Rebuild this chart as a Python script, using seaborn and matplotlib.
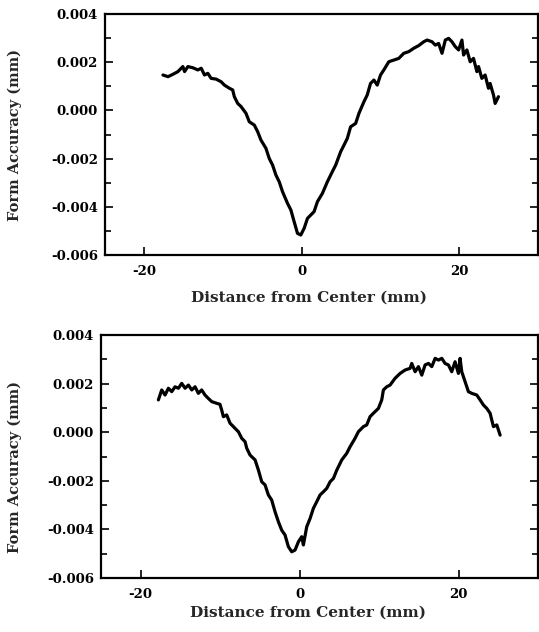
import numpy as np
import pandas as pd
import seaborn as sns
import matplotlib
matplotlib.use("Agg")
import matplotlib.pyplot as plt
from matplotlib.ticker import MultipleLocator, FormatStrFormatter

# Profile 1 (upper panel) - distance in mm, form accuracy in micrometres (x1e-3 mm)
x_top = [-17.64, -17.00, -16.37, -15.74, -15.11, -14.89, -14.47, -13.84, -13.21, -12.78,
         -12.36, -11.94, -11.52, -10.89, -10.25, -9.83, -9.20, -8.78, -8.57, -8.14,
         -7.72, -7.09, -6.67, -6.03, -5.61, -5.19, -4.56, -4.14, -3.71, -3.29,
         -2.87, -2.45, -1.81, -1.39, -0.97, -0.55, -0.13, 0.30, 0.72, 1.14,
         1.56, 1.98, 2.62, 3.25, 3.88, 4.30, 4.94, 5.36, 5.78, 6.20,
         6.84, 7.26, 7.89, 8.31, 8.73, 9.16, 9.58, 10.00, 10.42, 11.05,
         11.69, 12.32, 12.95, 13.59, 14.22, 14.85, 15.49, 15.91, 16.54, 16.96,
         17.38, 17.81, 18.23, 18.65, 19.07, 19.49, 19.92, 20.34, 20.55, 20.97,
         21.39, 21.81, 22.24, 22.45, 22.87, 23.29, 23.71, 23.92, 24.35, 24.56, 24.98]
y_top_um = [1.47, 1.40, 1.50, 1.61, 1.82, 1.61, 1.82, 1.77, 1.68, 1.75,
            1.47, 1.54, 1.33, 1.30, 1.19, 1.05, 0.92, 0.85, 0.57, 0.29,
            0.16, -0.12, -0.47, -0.61, -0.88, -1.23, -1.57, -1.99, -2.27, -2.68,
            -2.96, -3.37, -3.86, -4.13, -4.62, -5.10, -5.17, -4.89, -4.48, -4.34,
            -4.20, -3.79, -3.44, -2.96, -2.54, -2.27, -1.71, -1.44, -1.16, -0.68,
            -0.54, -0.12, 0.36, 0.64, 1.12, 1.26, 1.05, 1.47, 1.68, 2.02,
            2.09, 2.16, 2.37, 2.44, 2.58, 2.69, 2.85, 2.92, 2.85, 2.71,
            2.78, 2.37, 2.92, 2.99, 2.85, 2.65, 2.51, 2.92, 2.30, 2.51,
            2.02, 2.16, 1.61, 1.82, 1.33, 1.47, 0.92, 1.12, 0.64, 0.29, 0.57]

# Profile 2 (lower panel)
x_bot = [-17.78, -17.36, -16.94, -16.52, -16.10, -15.68, -15.26, -14.84, -14.42, -14.00,
         -13.58, -13.16, -12.75, -12.33, -11.91, -11.49, -11.07, -10.44, -10.03, -9.81,
         -9.60, -9.18, -8.76, -8.34, -7.71, -7.29, -6.87, -6.66, -6.24, -5.61,
         -5.19, -4.77, -4.35, -3.94, -3.52, -3.10, -2.68, -2.26, -1.84, -1.42,
         -1.00, -0.58, -0.16, 0.26, 0.47, 0.89, 1.31, 1.73, 2.15, 2.57,
         2.99, 3.41, 3.83, 4.25, 4.67, 5.30, 5.92, 6.34, 6.97, 7.39,
         8.02, 8.44, 8.86, 9.28, 9.91, 10.33, 10.54, 10.96, 11.38, 12.01,
         12.64, 13.27, 13.90, 14.11, 14.53, 14.95, 15.37, 15.79, 16.21, 16.63,
         17.05, 17.47, 17.89, 18.30, 18.72, 19.14, 19.56, 19.98, 20.19, 20.40,
         20.82, 21.24, 21.66, 22.29, 22.71, 23.13, 23.55, 23.97, 24.18, 24.39,
         24.81, 25.23]
y_bot_um = [1.33, 1.74, 1.53, 1.81, 1.67, 1.87, 1.81, 2.01, 1.81, 1.94,
            1.74, 1.87, 1.60, 1.74, 1.53, 1.39, 1.26, 1.19, 1.15, 0.91,
            0.64, 0.71, 0.37, 0.23, 0.02, -0.25, -0.39, -0.66, -0.94, -1.14,
            -1.56, -2.04, -2.17, -2.58, -2.79, -3.27, -3.68, -4.03, -4.23, -4.71,
            -4.92, -4.85, -4.51, -4.30, -4.64, -3.89, -3.55, -3.13, -2.86, -2.58,
            -2.45, -2.31, -2.04, -1.90, -1.56, -1.14, -0.87, -0.60, -0.25, 0.02,
            0.23, 0.30, 0.64, 0.78, 0.98, 1.33, 1.74, 1.87, 1.94, 2.22,
            2.42, 2.56, 2.63, 2.83, 2.49, 2.70, 2.35, 2.77, 2.83, 2.70,
            3.04, 2.97, 3.04, 2.83, 2.77, 2.49, 2.90, 2.42, 3.04, 2.49,
            2.08, 1.67, 1.60, 1.53, 1.33, 1.12, 0.98, 0.78, 0.50, 0.23,
            0.30, -0.12]

y_ticks = [-0.006, -0.004, -0.002, 0.000, 0.002, 0.004]
x_ticks = [-20, 0, 20]

sns.set_style("ticks")
plt.rcParams['font.family'] = ['DejaVu Serif']
plt.rcParams['font.weight'] = 'bold'
plt.rcParams['axes.unicode_minus'] = False

fig = plt.figure(figsize=(5.39, 6.32), dpi=100)
ax1 = fig.add_axes([0.1948, 0.5965, 0.8033, 0.3813])
ax2 = fig.add_axes([0.1874, 0.0854, 0.8108, 0.3845])

panels = [
    (ax1, x_top, y_top_um, -0.192, 0.498, 0.471, -0.147),
    (ax2, x_bot, y_bot_um, -0.181, 0.457, 0.474, -0.115),
]

for ax, xs, ys, ylx, yly, xlx, xly in panels:
    df = pd.DataFrame({'x': xs, 'y': np.array(ys) / 1000.0})
    sns.lineplot(data=df, x='x', y='y', ax=ax, color='black', linewidth=2.3,
                 estimator=None, sort=False)
    ax.set_xlim(-25, 30)
    ax.set_ylim(-0.006, 0.004)
    ax.set_xticks(x_ticks)
    ax.set_yticks(y_ticks)
    ax.yaxis.set_minor_locator(MultipleLocator(0.001))
    ax.yaxis.set_major_formatter(FormatStrFormatter('%.3f'))
    ax.tick_params(axis='both', which='both', direction='in', top=False, right=True,
                   labelright=False, width=1.2, colors='black')
    ax.tick_params(axis='both', which='major', length=6, labelsize=9.5, pad=5)
    ax.tick_params(axis='y', which='minor', length=4)
    ax.tick_params(axis='x', which='major', pad=7)
    for lab in ax.get_xticklabels() + ax.get_yticklabels():
        lab.set_fontweight('bold')
    for s in ax.spines.values():
        s.set_linewidth(1.6)
        s.set_color('black')
    ax.set_xlabel('Distance from Center (mm)', fontsize=11, fontweight='bold')
    ax.set_ylabel('Form Accuracy (mm)', fontsize=10.5, fontweight='bold')
    ax.yaxis.set_label_coords(ylx, yly)
    ax.xaxis.set_label_coords(xlx, xly)

fig.savefig('out.png', dpi=100)
plt.close(fig)
